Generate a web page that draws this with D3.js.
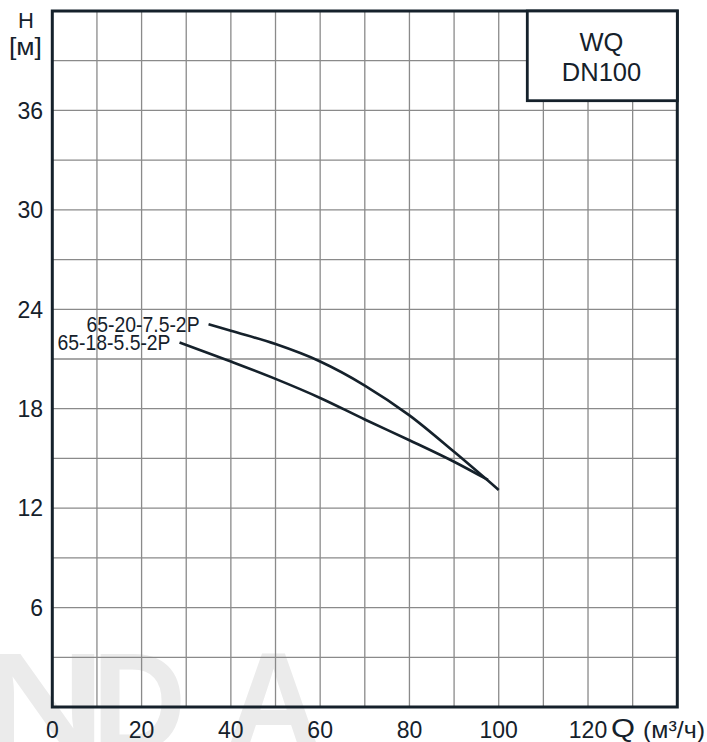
<!DOCTYPE html>
<html><head><meta charset="utf-8">
<script src="https://cdn.jsdelivr.net/npm/d3@7"></script>
<style>
html,body{margin:0;padding:0;background:#fff;}
svg{display:block;}
text{font-family:"Liberation Sans",Arial,sans-serif;fill:#15212b;}
</style></head>
<body>
<svg id="c" width="707" height="742"></svg>
<script>
const xTicks = [0, 20, 40, 60, 80, 100, 120];
const yTicks = [6, 12, 18, 24, 30, 36];
const seriesNames = ["65-20-7.5-2P", "65-18-5.5-2P"];
const q1 = [35, 40, 50, 60, 70, 80, 90, 100];
const h1 = [23.1, 22.7, 21.9, 20.85, 19.4, 17.6, 15.4, 13.1];
const q2 = [28.5, 40, 50, 60, 70, 80, 90, 97.6];
const h2 = [22.0, 20.85, 19.8, 18.65, 17.35, 16.1, 14.8, 13.7];
const boxLines = ["WQ", "DN100"];
const watermark = ["N", "D", "A"];

const dark = "#15212b";
const svg = d3.select("#c");
const x = d3.scaleLinear().domain([0, 140]).range([52.3, 677.3]);
const y = d3.scaleLinear().domain([0, 42]).range([707, 11]);

// watermark (light logo letters behind the chart), fitted to their boxes
const wm = svg.append("g");
const wmL = [-20, 92, 225], wmR = [106, 186, 322], wmF = 140;
watermark.forEach((ch, i) => {
  const t = wm.append("text").attr("font-size", wmF).attr("font-weight", "bold")
    .style("fill", "#ebebeb").text(ch);
  const b = t.node().getBBox();
  const s = (wmR[i] - wmL[i]) / b.width;
  t.attr("transform", `translate(${wmL[i] - b.x * s},${650 + 0.716 * wmF}) scale(${s},1)`);
});

// grid
const g = svg.append("g");
g.selectAll("line.v").data(d3.range(10, 140, 10)).join("line")
  .attr("x1", d => x(d)).attr("x2", d => x(d)).attr("y1", y(0)).attr("y2", y(42))
  .attr("stroke", "#8a8a8a").attr("stroke-width", 1.3);
g.selectAll("line.h").data(d3.range(3, 42, 3)).join("line")
  .attr("y1", d => y(d)).attr("y2", d => y(d)).attr("x1", x(0)).attr("x2", x(140))
  .attr("stroke", "#8a8a8a").attr("stroke-width", 1.3);

// frame
svg.append("rect").attr("x", x(0)).attr("y", y(42)).attr("width", x(140) - x(0)).attr("height", y(0) - y(42))
  .attr("fill", "none").attr("stroke", dark).attr("stroke-width", 3);

// box
svg.append("rect").attr("x", 527.3).attr("y", y(42)).attr("width", x(140) - 527.3).attr("height", 89.7)
  .attr("fill", "#fff").attr("stroke", dark).attr("stroke-width", 2.8);
boxLines.forEach((t, i) => {
  svg.append("text").attr("x", 601.5).attr("y", 51 + i * 29.5).attr("text-anchor", "middle")
    .attr("font-size", 25.5).text(t);
});

// axis labels
svg.selectAll("text.xt").data(xTicks).join("text").attr("class", "xt")
  .attr("x", d => x(d)).attr("y", 737.5).attr("text-anchor", "middle").attr("font-size", 23)
  .text(d => d);
svg.selectAll("text.yt").data(yTicks).join("text").attr("class", "yt")
  .attr("x", 43).attr("y", d => y(d) + 8.3).attr("text-anchor", "end").attr("font-size", 23)
  .text(d => d);
svg.append("text").attr("x", 26).attr("y", 28).attr("text-anchor", "middle").attr("font-size", 22).text("H");
svg.append("text").attr("x", 9).attr("y", 55).attr("font-size", 23)
  .attr("textLength", 33).attr("lengthAdjust", "spacingAndGlyphs").text("[м]");
svg.append("text").attr("x", 611).attr("y", 736.5).attr("font-size", 25)
  .attr("textLength", 24).attr("lengthAdjust", "spacingAndGlyphs").text("Q");
svg.append("text").attr("x", 643).attr("y", 737.5).attr("font-size", 24).attr("textLength", 62)
  .attr("lengthAdjust", "spacingAndGlyphs").text("(м³/ч)");

// curves
const line = d3.line().x(d => x(d[0])).y(d => y(d[1])).curve(d3.curveMonotoneX);
const series = [d3.zip(q1, h1), d3.zip(q2, h2)];
series.forEach((s, i) => {
  svg.append("path").attr("d", line(s)).attr("fill", "none").attr("stroke", dark).attr("stroke-width", 2.6);
  svg.append("text").attr("x", x(s[0][0]) - 9).attr("y", y(s[0][1]) + 7.5).attr("text-anchor", "end")
    .attr("font-size", 21.5).attr("textLength", 113).attr("lengthAdjust", "spacingAndGlyphs")
    .text(seriesNames[i]);
});
</script>
</body></html>
